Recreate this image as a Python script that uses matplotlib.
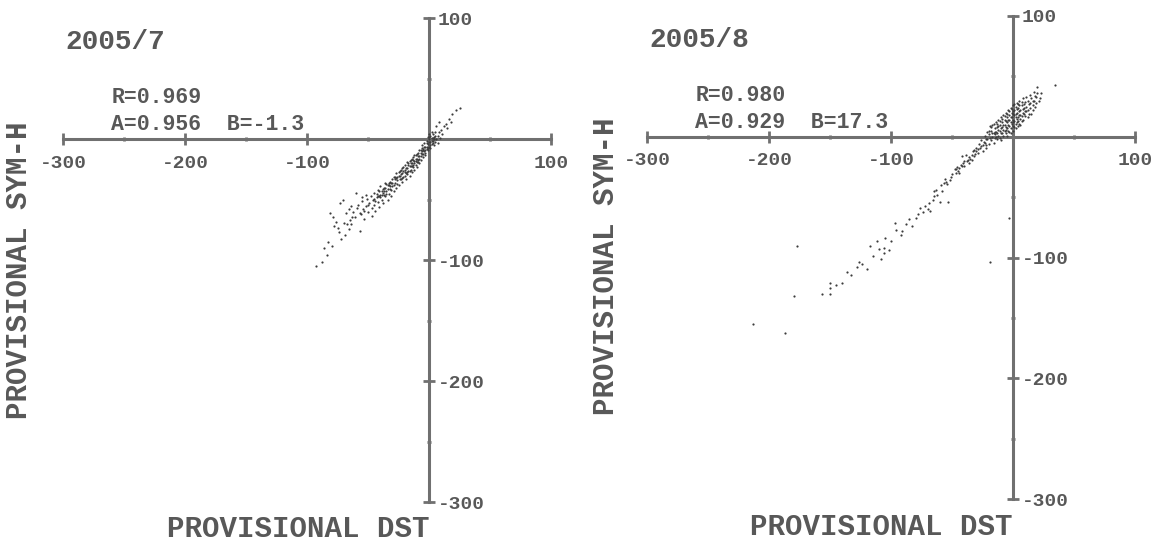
import matplotlib
matplotlib.use("Agg")
import matplotlib.pyplot as plt
from matplotlib.ticker import FixedLocator

plt.rcParams['font.family'] = ['Liberation Mono', 'DejaVu Sans Mono']
plt.rcParams['font.weight'] = 'bold'
plt.rcParams['axes.unicode_minus'] = False

# 2005/7 : provisional Dst (x) vs provisional SYM-H (y)
dst_jul = [-93, -88, -84, -80, -81, -79, -75, -74, -72, -69, -67, -73, -71, -65, -63, -60, -62, -59,
           -57, -58, -56, -55, -54, -53, -52, -51, -50, -49, -48, -47, -47, -46, -45, -45, -44, -43,
           -42, -42, -41, -40, -40, -39, -38, -38, -37, -36, -36, -35, -34, -34, -33, -32, -32, -31,
           -30, -30, -29, -28, -28, -27, -27, -26, -25, -25, -24, -24, -23, -22, -22, -21, -20, -20,
           -19, -19, -18, -18, -17, -16, -16, -15, -15, -14, -14, -13, -13, -12, -12, -11, -11, -10,
           -10, -9, -9, -8, -8, -7, -7, -6, -6, -5, -5, -4, -4, -3, -3, -2, -2, -1, -1, 0, 0, 0,
           1, 1, 2, 2, 2, 3, 3, 4, 4, 5, 5, 6, 6, 7, 7, 8, 8, 9, 10, 11, 12, 14, 15, 16, 18, 19, 22, 25,
           -35, -33, -31, -29, -26, -23, -21, -17, -15, -13, -11, -9, -7, -5, -3, -2, -1, 1, 3,
           -44, -41, -39, -37, -53, -50, -57, -61, -64, -66, -68, -70, -76, -78, -83, -86, -64, -66,
           -55, -52,
           -45, -43, -42, -41, -40, -39, -38, -37, -36, -35, -34, -33, -32, -31, -30, -29, -28, -27,
           -26, -25, -24, -23, -22, -21, -20, -19, -18, -17, -16, -15, -14, -13, -12, -11, -10, -9,
           -8, -7, -6, -5, -4, -3, -2, -1, 0, 0, 1, 2, 3, 4, 5, -6, -8, -10, -12, -14, -16, -18, -20, -22]
sym_jul = [-105, -101, -96, -88, -61, -64, -73, -77, -82, -79, -70, -53, -50, -67, -64, -44, -60, -57,
           -76, -54, -62, -51, -58, -66, -55, -49, -60, -53, -47, -57, -63, -50, -44, -54, -59, -48,
           -42, -52, -56, -46, -39, -50, -44, -53, -40, -47, -36, -43, -50, -38, -45, -35, -41, -47,
           -33, -39, -43, -31, -36, -40, -28, -34, -30, -38, -26, -33, -29, -35, -24, -31, -27, -21,
           -33, -24, -29, -19, -26, -22, -30, -17, -25, -20, -27, -15, -23, -18, -25, -13, -21, -16,
           -23, -11, -19, -14, -20, -9, -17, -12, -5, -15, -8, -10, -3, -13, -6, -1, -8, -4, 2, -6, 0, 4,
           -2, 3, -4, 1, 6, -1, 4, -5, 2, -2, 6, 0, 11, 3, -3, 14, 6, 1, 8, 4, 11, 13, 9, 17, 14, 21, 24, 26,
           -37, -38, -36, -31, -31, -25, -26, -21, -20, -17, -16, -14, -11, -9, -9, -3, -7, -5, 1,
           -51, -47, -43, -46, -59, -54, -61, -64, -70, -74, -61, -69, -68, -72, -85, -90, -55, -58,
           -48, -46,
           -49, -45, -47, -43, -48, -46, -41, -43, -40, -45, -41, -36, -39, -42, -36, -38, -33, -32,
           -37, -27, -30, -33, -28, -23, -25, -28, -24, -20, -26, -22, -16, -21, -20, -18, -12, -17,
           -16, -14, -10, -12, -6, -11, -6, -9, -2, 2, -7, -1, -3, 0, 3, -7, -9, -19, -13, -22, -18, -27, -30, -32]

# 2005/8
dst_aug = [-213, -187, -180, -177, -157, -150, -150, -150, -145, -140, -128, -126, -124, -120, -117,
           -112, -110, -108, -106, -105, -106, -102, -97, -96, -92, -85, -83, -80, -76, -70, -69, -68,
           -65, -65, -62, -60, -59, -57, -53, -52, -48, -47, -45, -44, -42, -41, -40, -37, -36, -34,
           -32, -30, -29, -26, -25, -23, -22, -21,
           -20, -20, -19, -18, -18, -17, -17, -16, -16, -15, -15, -14, -14, -13, -13, -12, -12, -11,
           -11, -10, -10, -10, -9, -9, -8, -8, -8, -7, -7, -6, -6, -6, -5, -5, -4, -4, -4, -3, -3, -2,
           -2, -2, -1, -1, 0, 0, 0, 1, 1, 2, 2, 3, 3, 4, 4, 5, 5, 6, 6, 7, 8, 8, 9, 10, 10, 11, 12, 13,
           14, 15, 16, 17, 18, 19, 20, 21, 23, -24, -23, -22, -21,
           -15, -12, -9, -7, -5, -3, -1, 1, 3, 5, 7, 9, 11, -11, -13, -5, -2, 0, 2, 4, 6, 8, 12, 14, 16,
           -6, -3, 0, 2, 4, -26, -28, -30, -31, -33, -35, -38, -39, -43, -46, -50, -55, -58, -63, -66,
           -72, -74, -78, -88, -91, -100, -115, -133, -136,
           -3, -19, 34,
           -22, -20, -19, -18, -17, -16, -15, -14, -13, -12, -11, -10, -9, -8, -7, -6, -5, -4, -3, -2,
           -1, 0, 0, 1, 1, 2, 3, 3, 4, 5, 5, 6, 7, 7, 8, 9, 10, 11, 12, 13, 14, 15, 16, 17, 18, 19, 20,
           22, -25, -27, -29, -32, -34, -36, -40, -42, -44, -47, -51, -54, -56]
sym_aug = [-155, -162, -132, -90, -130, -121, -125, -130, -123, -121, -108, -104, -105, -109, -90,
           -86, -93, -101, -92, -84, -96, -94, -71, -77, -81, -68, -74, -67, -59, -60, -55, -61,
           -45, -49, -48, -54, -40, -38, -54, -36, -27, -30, -28, -26, -16, -22, -24, -19, -22, -15,
           -16, -12, -10, -8, -12, -5, -9, -2,
           -6, 2, 9, -3, 5, 0, 10, -5, 3, 7, -1, 12, 4, -2, 8, 1, 14, 5,
           10, -3, 3, 16, 8, 12, 1, 6, 18, 10, 14, 3, 8, 20, 12, 16, 5, 10, 22, 14, 18, 7,
           12, 24, 16, 20, 9, 14, 26, 18, 22, 11, 16, 20, 28, 13, 24, 18, 30, 22, 15, 26, 20, 32, 24, 17, 29, 33, 22, 27,
           35, 19, 30, 37, 25, 33, 41, 30, 36, -4, 1, -7, 4,
           2, 6, 3, 5, 7, 9, 11, 13, 15, 11, 17, 19, 21, -1, 3, 1, 3, 5, 7, 9, 10, 14, 16, 24, 22,
           13, 21, 19, 25, 27, -3, -6, -9, -14, -12, -18, -20, -15, -23, -25, -31, -37, -45, -44, -52,
           -57, -62, -64, -72, -78, -86, -99, -114, -112,
           -67, -104, 43,
           -2, 5, -1, 8, 3, 11, 4, 0, 11, 9, 13, 7, 15, 10, 17, 6, 19, 14, 4, 16,
           23, 12, 21, 8, 27, 19, 12, 23, 16, 21, 26, 18, 13, 29, 23, 27, 21, 25, 30, 19, 28, 32, 26, 30, 34, 28, 36,
           32, -7, -9, -13, -11, -19, -17, -20, -24, -30, -27, -33, -39, -35]

months = ['2005/7', '2005/8']
r_vals = ['0.969', '0.980']
a_vals = ['0.956', '0.929']
b_vals = ['-1.3', '17.3']

W, H = 1157, 548
AX_COL = '#707070'
TXT_COL = '#585858'


def draw_panel(ax, x, y):
    ax.set_xlim(-300, 100)
    ax.set_ylim(-300, 100)
    ax.set_facecolor('none')
    # axes cross at the origin, labels of y go to the right side
    ax.spines['bottom'].set_position(('data', 0))
    ax.spines['right'].set_position(('data', 0))
    ax.spines['top'].set_visible(False)
    ax.spines['left'].set_visible(False)
    for s in ['bottom', 'right']:
        ax.spines[s].set_color(AX_COL)
        ax.spines[s].set_linewidth(2.2)
    ax.xaxis.set_ticks_position('bottom')
    ax.yaxis.set_ticks_position('right')
    ax.xaxis.set_major_locator(FixedLocator([-300, -200, -100, 100]))
    ax.yaxis.set_major_locator(FixedLocator([-300, -200, -100, 100]))
    ax.xaxis.set_minor_locator(FixedLocator([-250, -150, -50, 50]))
    ax.yaxis.set_minor_locator(FixedLocator([-250, -150, -50, 50]))
    ax.tick_params(which='major', direction='inout', length=8, width=2, color=AX_COL,
                   labelsize=14, labelcolor=TXT_COL)
    ax.tick_params(which='minor', direction='inout', length=3, width=2, color=AX_COL)
    ax.tick_params(axis='x', which='major', pad=7)
    ax.tick_params(axis='y', which='major', pad=2)
    ax.scatter(x, y, s=2.5, c='#3c3c3c', linewidths=0, zorder=3)


fig = plt.figure(figsize=(W / 100, H / 100), dpi=100)

panels = [(dst_jul, sym_jul, 63.3, 18.3, 502.3), (dst_aug, sym_aug, 647.3, 16, 499.3)]
xlab_pos = [(298, 529), (881, 527)]
ylab_pos = [(19, 270), (606, 266)]

for i, (x, y, left, top, bottom) in enumerate(panels):
    ax = fig.add_axes([left / W, 1 - bottom / H, 487.7 / W, (bottom - top) / H])
    draw_panel(ax, x, y)
    fig.text((left + 2) / W, 1 - (49 - i * 2) / H, months[i], fontsize=20,
             color=TXT_COL, va='baseline')
    fig.text((left + 48) / W, 1 - (103 - i * 2) / H, 'R=' + r_vals[i], fontsize=15.5,
             color=TXT_COL, va='baseline')
    fig.text((left + 48) / W, 1 - (130 - i * 2) / H,
             'A=' + a_vals[i] + '  B=' + b_vals[i], fontsize=15.5,
             color=TXT_COL, va='baseline')
    fig.text(xlab_pos[i][0] / W, 1 - xlab_pos[i][1] / H, 'PROVISIONAL DST', fontsize=21,
             color=TXT_COL, ha='center', va='center')
    fig.text(ylab_pos[i][0] / W, 1 - ylab_pos[i][1] / H, 'PROVISIONAL SYM-H', fontsize=21,
             color=TXT_COL, ha='center', va='center', rotation=90)

fig.savefig('out.png', dpi=100, facecolor='white')
